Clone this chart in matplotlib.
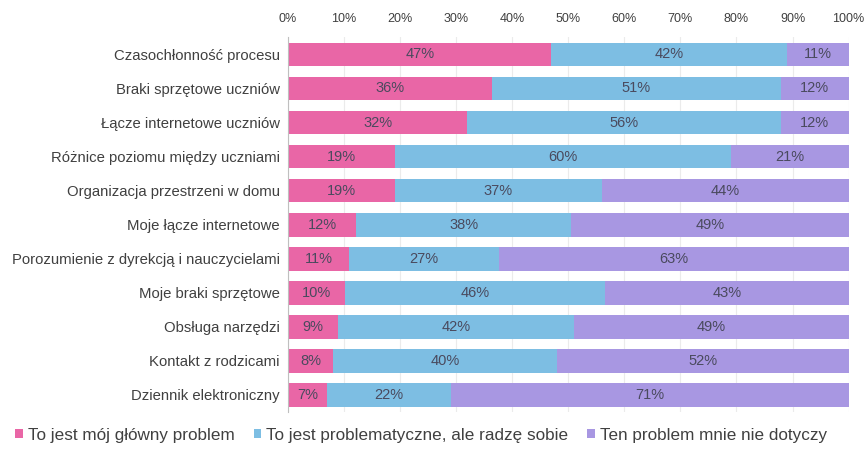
import matplotlib.pyplot as plt
import numpy as np

plt.rcParams['font.family'] = ['Liberation Sans', 'DejaVu Sans']

# Categories (top to bottom)
categories = [
    "Czasochłonność procesu",
    "Braki sprzętowe uczniów",
    "Łącze internetowe uczniów",
    "Różnice poziomu między uczniami",
    "Organizacja przestrzeni w domu",
    "Moje łącze internetowe",
    "Porozumienie z dyrekcją i nauczycielami",
    "Moje braki sprzętowe",
    "Obsługa narzędzi",
    "Kontakt z rodzicami",
    "Dziennik elektroniczny",
]
main_problem = [47, 36, 32, 19, 19, 12, 11, 10, 9, 8, 7]
problematic = [42, 51, 56, 60, 37, 38, 27, 46, 42, 40, 22]
not_concern = [11, 12, 12, 21, 44, 49, 63, 43, 49, 52, 71]

series_names = [
    "To jest mój główny problem",
    "To jest problematyczne, ale radzę sobie",
    "Ten problem mnie nie dotyczy",
]
colors = ["#E966A6", "#7DBEE3", "#A897E2"]
text_color = "#4A4A5E"

data = np.array([main_problem, problematic, not_concern], dtype=float)
shares = data / data.sum(axis=0) * 100

fig = plt.figure(figsize=(8.65, 4.51), dpi=100)
ax = fig.add_axes([0.333, 0.087, 0.648, 0.83])

y = np.arange(len(categories))
left = np.zeros(len(categories))
for vals, share, name, col in zip(data, shares, series_names, colors):
    ax.barh(y, share, left=left, height=0.7, color=col, label=name, zorder=2)
    for yi, (v, s, l) in enumerate(zip(vals, share, left)):
        ax.text(l + s / 2, yi, f"{int(v)}%", ha='center', va='center',
                fontsize=10.5, color=text_color, zorder=3)
    left += share

ax.set_xlim(0, 100)
ax.set_ylim(len(categories) - 0.5, -0.5)
ax.set_yticks(y)
ax.set_yticklabels(categories, fontsize=10.7, color="#404040")
ax.set_xticks(np.arange(0, 101, 10))
ax.set_xticklabels([f"{t}%" for t in range(0, 101, 10)], fontsize=9, color="#404040")
ax.xaxis.tick_top()
ax.tick_params(axis='both', length=0)
ax.tick_params(axis='x', pad=9)
ax.tick_params(axis='y', pad=6)
ax.grid(axis='x', color="#EBEBEB", linewidth=0.8, zorder=0)
for side in ['top', 'right', 'bottom']:
    ax.spines[side].set_visible(False)
ax.spines['left'].set_color("#BFBFBF")

fig.legend(loc='lower center', bbox_to_anchor=(0.487, -0.016), ncol=3, frameon=False,
           fontsize=12.3, handlelength=0.45, handleheight=0.45, handletextpad=0.3,
           columnspacing=1.1, labelcolor="#404040")

fig.savefig("out.png", dpi=100)
